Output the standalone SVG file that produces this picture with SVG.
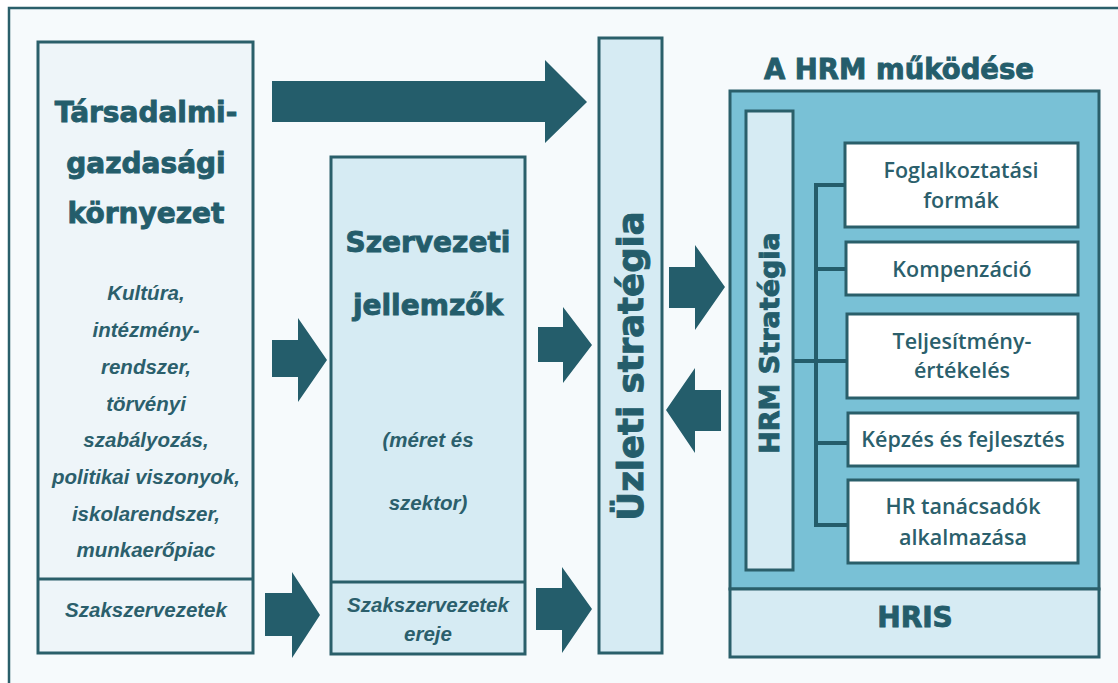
<svg xmlns="http://www.w3.org/2000/svg" width="1118" height="683" viewBox="0 0 1118 683">
  <style>
    .box { stroke: #2a5f6a; stroke-width: 3; }
    .pale { fill: #eef5f9; }
    .light { fill: #d6ebf3; }
    .mid { fill: #79c1d6; }
    .white { fill: #ffffff; }
    .arrow { fill: #245d6b; }
    .tree { fill: none; stroke: #245d6b; stroke-width: 4; }
    .head { font-family: "DejaVu Sans", sans-serif; font-weight: bold; fill: #245d6b; stroke: #245d6b; stroke-width: 0.9; text-anchor: middle; }
    .ital { font-family: "Liberation Sans", Arial, sans-serif; font-weight: bold; font-style: italic; font-size: 20.5px; fill: #2b5f6c; text-anchor: middle; }
    .item { font-family: "Open Sans", sans-serif; font-weight: 600; font-size: 21.5px; fill: #2b5f6c; text-anchor: middle; }
  </style>

  <!-- page and frame -->
  <rect x="0" y="0" width="1118" height="683" fill="#ffffff"/>
  <rect x="9" y="8" width="1130" height="700" fill="#f6fafc" stroke="#2a5f6a" stroke-width="2.5"/>

  <!-- socio-economic environment -->
  <g id="kornyezet">
    <rect class="box pale" x="38" y="42" width="215" height="611"/>
    <line class="box" x1="38" y1="579" x2="253" y2="579"/>
    <text class="head" font-size="28" x="146" y="122">Társadalmi-</text>
    <text class="head" font-size="28" x="146" y="173">gazdasági</text>
    <text class="head" font-size="28" x="146" y="223">környezet</text>
    <text class="ital" x="146" y="300">Kultúra,</text>
    <text class="ital" x="146" y="337">intézmény-</text>
    <text class="ital" x="146" y="374">rendszer,</text>
    <text class="ital" x="146" y="411">törvényi</text>
    <text class="ital" x="146" y="447">szabályozás,</text>
    <text class="ital" x="146" y="484">politikai viszonyok,</text>
    <text class="ital" x="146" y="521">iskolarendszer,</text>
    <text class="ital" x="146" y="557">munkaerőpiac</text>
    <text class="ital" x="146" y="617">Szakszervezetek</text>
  </g>

  <!-- organisational characteristics -->
  <g id="szervezeti">
    <rect class="box light" x="331" y="157" width="194" height="497"/>
    <line class="box" x1="331" y1="582" x2="525" y2="582"/>
    <text class="head" font-size="28" x="428" y="252">Szervezeti</text>
    <text class="head" font-size="28" x="428" y="315">jellemzők</text>
    <text class="ital" x="428" y="447">(méret és</text>
    <text class="ital" x="428" y="510">szektor)</text>
    <text class="ital" x="428" y="612">Szakszervezetek</text>
    <text class="ital" x="428" y="641">ereje</text>
  </g>

  <!-- business strategy -->
  <g id="uzleti">
    <rect class="box light" x="599" y="38" width="63" height="615"/>
    <text class="head" font-size="35.5" transform="translate(643 366) rotate(-90)">Üzleti stratégia</text>
  </g>

  <!-- HRM operation -->
  <g id="hrm">
    <text class="head" font-size="27.5" x="899" y="79">A HRM működése</text>
    <rect class="box mid" x="730" y="91" width="369" height="498"/>
    <rect class="box light" x="730" y="589" width="369" height="68"/>
    <text class="head" font-size="28" x="915" y="627">HRIS</text>
  </g>

  <g id="hrm-strategia">
    <rect class="box light" x="746" y="111" width="47" height="459"/>
    <text class="head" font-size="27" transform="translate(779 343) rotate(-90)">HRM Stratégia</text>
  </g>

  <g id="foglalkoztatas">
    <rect class="box white" x="845" y="143" width="233" height="84" stroke-width="2.5"/>
    <text class="item" x="961" y="178">Foglalkoztatási</text>
    <text class="item" x="961" y="208">formák</text>
  </g>
  <g id="kompenzacio">
    <rect class="box white" x="846" y="242" width="232" height="53" stroke-width="2.5"/>
    <text class="item" x="962" y="277">Kompenzáció</text>
  </g>
  <g id="teljesitmeny">
    <rect class="box white" x="847" y="314" width="231" height="84" stroke-width="2.5"/>
    <text class="item" x="962" y="349">Teljesítmény-</text>
    <text class="item" x="962" y="378">értékelés</text>
  </g>
  <g id="kepzes">
    <rect class="box white" x="848" y="413" width="230" height="53" stroke-width="2.5"/>
    <text class="item" x="963" y="447">Képzés és fejlesztés</text>
  </g>
  <g id="tanacsadok">
    <rect class="box white" x="848" y="480" width="230" height="83" stroke-width="2.5"/>
    <text class="item" x="963" y="514">HR tanácsadók</text>
    <text class="item" x="963" y="545">alkalmazása</text>
  </g>

  <!-- connectors -->
  <g id="connectors">
    <polygon class="arrow" points="272,81 545,81 545,60 587,102 545,143 545,122 272,122"/>
    <polygon class="arrow" points="272,340 298,340 298,318 327,360 298,402 298,377 272,377"/>
    <polygon class="arrow" points="538,327 563,327 563,307 592,345 563,383 563,362 538,362"/>
    <polygon class="arrow" points="669,267 695,267 695,245 725,287 695,330 695,308 669,308"/>
    <polygon class="arrow" points="721,390 695,390 695,368 666,410 695,453 695,431 721,431"/>
    <polygon class="arrow" points="265,593 292,593 292,572 320,615 292,658 292,636 265,636"/>
    <polygon class="arrow" points="536,588 562,588 562,567 592,609 562,653 562,630 536,630"/>
    <path class="tree" d="M845,185 H816 V525 H848 M816,269 H846 M793,361 H847 M816,443 H848"/>
  </g>
</svg>
